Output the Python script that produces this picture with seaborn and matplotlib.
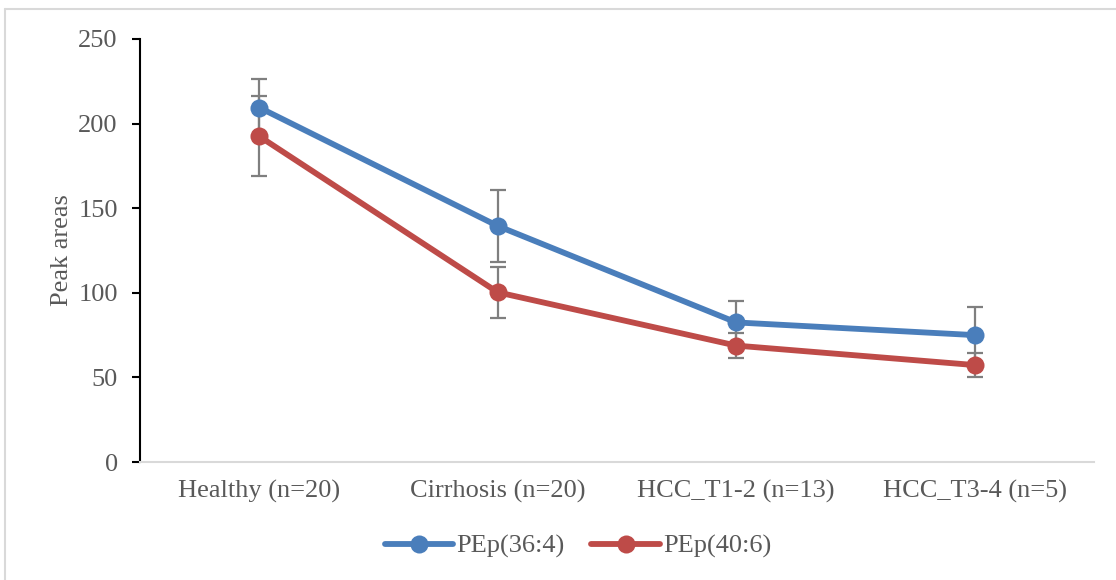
import matplotlib
matplotlib.use("Agg")
import matplotlib.pyplot as plt
from matplotlib.lines import Line2D
import numpy as np
import pandas as pd
import seaborn as sns

# %% Data
groups = ["Healthy (n=20)", "Cirrhosis (n=20)", "HCC_T1-2 (n=13)", "HCC_T3-4 (n=5)"]
pep_36_4 = [209.5, 139.5, 82.5, 75.0]
pep_36_4_err = [17.0, 21.5, 12.5, 16.8]
pep_40_6 = [192.5, 100.3, 68.8, 57.3]
pep_40_6_err = [23.6, 15.0, 7.4, 7.1]
series_names = ["PEp(36:4)", "PEp(40:6)"]

df = pd.DataFrame({
    "Group": groups * 2,
    "Peak": pep_36_4 + pep_40_6,
    "Err": pep_36_4_err + pep_40_6_err,
    "Lipid": [series_names[0]] * 4 + [series_names[1]] * 4,
})

# %% Plot
sns.set_style("white")
plt.rcParams["font.family"] = ["Liberation Serif", "DejaVu Serif"]
text_grey = "#595959"
colours = {"PEp(36:4)": "#4A7EBB", "PEp(40:6)": "#BE4B48"}

fig = plt.figure(figsize=(11.16, 5.80), dpi=100)
ax = fig.add_axes([0.1254, 0.2034, 0.8549, 0.7294])

# error bars sit behind the lines
for name, grp in df.groupby("Lipid", sort=False):
    ax.errorbar(np.arange(len(grp)), grp["Peak"], yerr=grp["Err"], fmt="none",
                ecolor="#7F7F7F", elinewidth=1.6, capsize=6, capthick=1.6, zorder=1)

sns.lineplot(data=df, x="Group", y="Peak", hue="Lipid", palette=colours,
             marker="o", markersize=13, markeredgewidth=0, linewidth=4.2,
             sort=False, ax=ax, zorder=3, legend=False)

ax.set_xlim(-0.5, 3.5)
ax.set_ylim(0, 250)
ax.set_yticks(np.arange(0, 251, 50))
ax.set_xlabel("")
ax.set_ylabel("Peak areas", fontsize=19, color=text_grey, labelpad=4)
ax.tick_params(axis="y", which="major", direction="out", length=6, width=1.5,
               color="black", labelsize=19, labelcolor=text_grey, left=True, pad=10)
ax.tick_params(axis="x", length=0, labelsize=19, labelcolor=text_grey, pad=13)

for side in ["top", "right"]:
    ax.spines[side].set_visible(False)
ax.spines["left"].set_color("black")
ax.spines["left"].set_linewidth(1.5)
ax.spines["bottom"].set_color("#D9D9D9")
ax.spines["bottom"].set_linewidth(1.5)

handles = [Line2D([0], [0], color=colours[n], lw=4.2, marker="o", markersize=13,
                  markeredgewidth=0) for n in series_names]
leg = fig.legend(handles, series_names, loc="center", bbox_to_anchor=(0.518, 0.058),
                 ncol=2, frameon=False, fontsize=19, handlelength=2.6,
                 columnspacing=1.0, handletextpad=0.12)
for t in leg.get_texts():
    t.set_color(text_grey)

# thin chart-area border on top and left
fig.add_artist(Line2D([5 / 1116, 5 / 1116], [0, 1 - 9 / 580], transform=fig.transFigure,
                      color="#D9D9D9", lw=1.5))
fig.add_artist(Line2D([5 / 1116, 1], [1 - 9 / 580, 1 - 9 / 580], transform=fig.transFigure,
                      color="#D9D9D9", lw=1.5))

fig.savefig("out.png", dpi=100)
